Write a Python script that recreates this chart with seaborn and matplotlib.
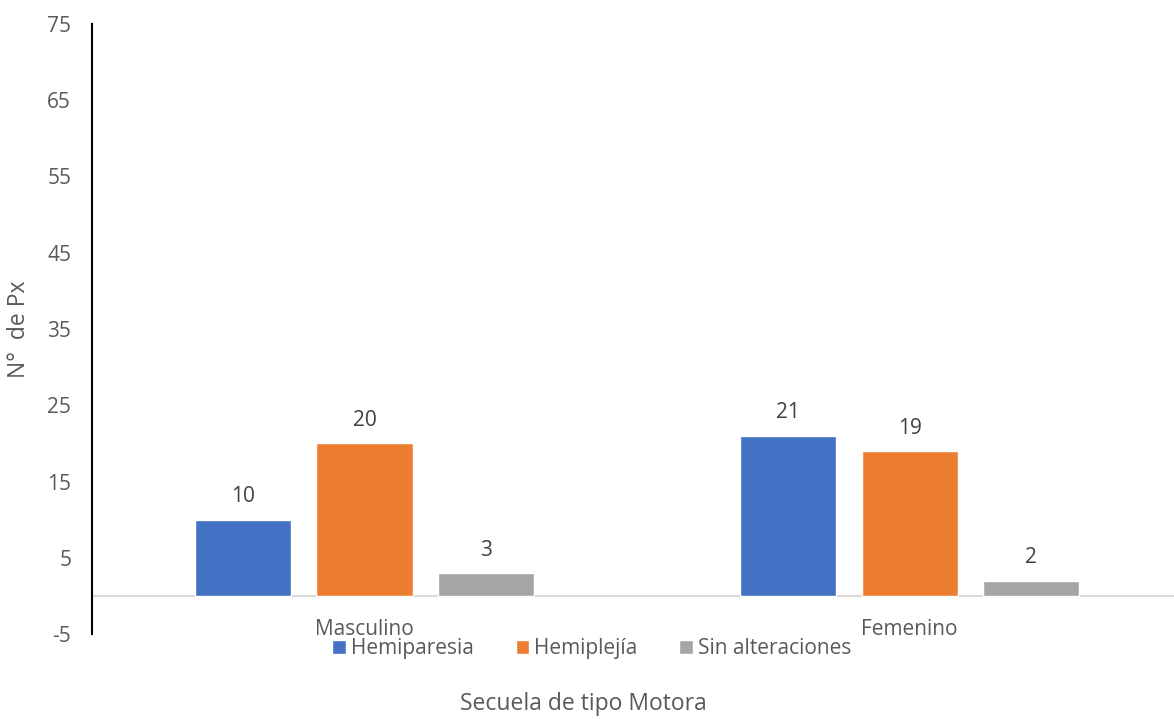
import pandas as pd
import matplotlib
matplotlib.use('Agg')
import matplotlib.pyplot as plt
import seaborn as sns

categorias = ['Masculino', 'Femenino']
secuelas = ['Hemiparesia', 'Hemiplejía', 'Sin alteraciones']
hemiparesia = [10, 21]
hemiplejia = [20, 19]
sin_alteraciones = [3, 2]
y_ticks = [-5, 5, 15, 25, 35, 45, 55, 65, 75]

colores = ['#4472C4', '#ED7D31', '#A5A5A5']
texto = '#595959'

df = pd.DataFrame({
    'Sexo': categorias * 3,
    'Secuela': [s for s in secuelas for _ in categorias],
    'Px': hemiparesia + hemiplejia + sin_alteraciones,
})

sns.set_theme(style='white')
plt.rcParams['font.family'] = ['Open Sans', 'DejaVu Sans']

fig, ax = plt.subplots(figsize=(11.74, 7.19), dpi=100)
fig.subplots_adjust(left=0.0784, right=1.0, top=0.967, bottom=0.118)

sns.barplot(data=df, x='Sexo', y='Px', hue='Secuela', order=categorias,
            hue_order=secuelas, palette=colores, width=0.67, gap=0.21,
            saturation=1, ax=ax, legend=True)

for cont in ax.containers:
    ax.bar_label(cont, padding=9, fontsize=15, color='#404040')

ax.set_ylim(-5, 75)
ax.set_xlim(-0.5, 1.485)
ax.set_yticks(y_ticks)
ax.set_yticklabels([str(t) for t in y_ticks], fontsize=15, color=texto)
ax.tick_params(axis='y', length=0, pad=15)
ax.set_xticks([])
ax.axhline(0, color='#D9D9D9', lw=1.5, zorder=0)

for s in ['top', 'right', 'bottom']:
    ax.spines[s].set_visible(False)
ax.spines['left'].set_color('black')
ax.spines['left'].set_linewidth(1.5)

for i, c in enumerate(categorias):
    ax.text(i, -4.4, c, ha='center', va='center', fontsize=15, color=texto)

ax.set_ylabel('N°  de Px', fontsize=16.5, color=texto, labelpad=12)
ax.set_xlabel('')
fig.text(0.497, 0.004, 'Secuela de tipo Motora', ha='center', va='bottom',
         fontsize=16.5, color=texto)

ax.legend(loc='center', bbox_to_anchor=(0.462, -0.024), ncol=3, frameon=False,
          fontsize=15, labelcolor=texto, handlelength=0.65, handleheight=0.65,
          handletextpad=0.25, columnspacing=2.0, borderpad=0)

fig.savefig('out.png', dpi=100)
